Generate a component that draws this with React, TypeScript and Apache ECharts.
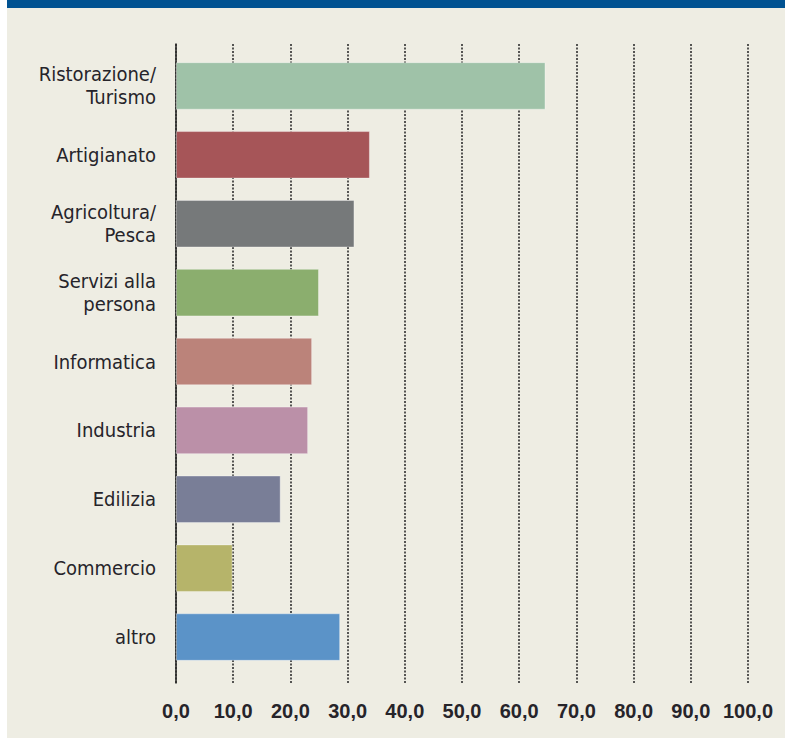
import React, { useEffect, useRef } from "react";
import * as echarts from "echarts";

const categories = [
  "Ristorazione/\nTurismo",
  "Artigianato",
  "Agricoltura/\nPesca",
  "Servizi alla\npersona",
  "Informatica",
  "Industria",
  "Edilizia",
  "Commercio",
  "altro",
];
const values = [64.6, 33.9, 31.2, 25.0, 23.8, 23.1, 18.3, 9.9, 28.7];
const barColors = [
  "#9fc2a8",
  "#a65558",
  "#76797a",
  "#8bae6e",
  "#bb837a",
  "#bb90a8",
  "#797e97",
  "#b6b46a",
  "#5b93c8",
];
const axisMin = 0;
const axisMax = 100;
const axisStep = 10;

const LABEL_FONT = "'DejaVu Sans Condensed', 'Liberation Sans', sans-serif";
const TICK_FONT = "'Liberation Sans', Arial, sans-serif";
const TEXT = "#26242a";

export default function App() {
  const ref = useRef<HTMLDivElement>(null);
  useEffect(() => {
    document.body.style.margin = "0";
    const chart = echarts.init(ref.current!, null, { renderer: "svg" });
    chart.setOption({
      animation: false,
      backgroundColor: "#eeede3",
      graphic: [
        { type: "rect", left: 0, top: 0, shape: { width: 7, height: 738 }, style: { fill: "#ffffff" }, silent: true },
        { type: "rect", left: 7, top: 0, shape: { width: 778, height: 8 }, style: { fill: "#005291" }, silent: true },
      ],
      grid: [
        { left: 176, right: 37, top: 51.5, bottom: 66.5 },
        { left: 176, right: 37, top: 44, bottom: 55 },
      ],
      xAxis: [
        { gridIndex: 0, type: "value", min: axisMin, max: axisMax, interval: axisStep, show: false },
        {
          gridIndex: 1,
          type: "value",
          min: axisMin,
          max: axisMax,
          interval: axisStep,
          axisLine: { show: false },
          axisTick: { show: false },
          splitLine: { show: true, lineStyle: { color: "#2e2e2e", width: 1.6, type: [2, 1.5] } },
          axisLabel: {
            margin: 18,
            formatter: (v: number) => v.toFixed(1).replace(".", ","),
            fontFamily: TICK_FONT,
            fontWeight: "bold",
            fontSize: 20,
            color: TEXT,
          },
        },
      ],
      yAxis: [
        {
          gridIndex: 0,
          type: "category",
          data: categories,
          inverse: true,
          axisLine: { show: false },
          axisTick: { show: false },
          splitLine: { show: false },
          axisLabel: {
            margin: 20,
            fontFamily: LABEL_FONT,
            fontSize: 20,
            lineHeight: 23,
            color: TEXT,
            align: "right",
          },
        },
        {
          gridIndex: 1,
          type: "value",
          min: 0,
          max: 1,
          axisLine: { show: true, lineStyle: { color: "#2a2a2a", width: 1.6 } },
          axisTick: { show: false },
          axisLabel: { show: false },
          splitLine: { show: false },
        },
      ],
      series: [
        {
          type: "bar",
          xAxisIndex: 0,
          yAxisIndex: 0,
          barWidth: "69%",
          z: 5,
          data: values.map((v, i) => ({
            value: v,
            itemStyle: { color: barColors[i], borderColor: "rgba(255,255,255,0.35)", borderWidth: 1 },
          })),
        },
      ],
    });
    return () => chart.dispose();
  }, []);
  return <div ref={ref} style={{ width: 785, height: 738 }} />;
}
